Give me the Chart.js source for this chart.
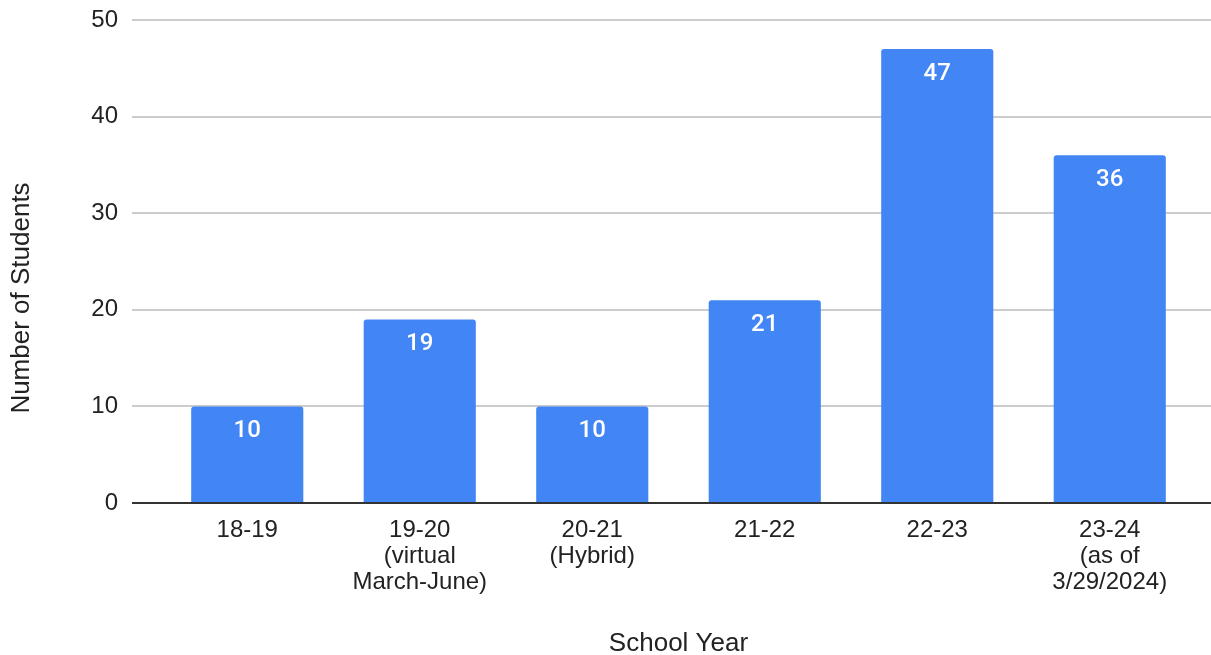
<!DOCTYPE html>
<html>
<head>
<meta charset="utf-8">
<script src="https://cdn.jsdelivr.net/npm/chart.js@4.4.1/dist/chart.umd.min.js"></script>
<style>
  html, body { margin: 0; padding: 0; background: #fff; }
  #wrap { width: 1211px; height: 655px; }
</style>
</head>
<body>
<div id="wrap"><canvas id="chart"></canvas></div>
<script>
  // values
  var schoolYears = [
    ['18-19'],
    ['19-20', '(virtual', 'March-June)'],
    ['20-21', '(Hybrid)'],
    ['21-22'],
    ['22-23'],
    ['23-24', '(as of', '3/29/2024)']
  ];
  var studentCounts = [10, 19, 10, 21, 47, 36];
  var yTicks = [0, 10, 20, 30, 40, 50];
  var xTitle = 'School Year';
  var yTitle = 'Number of Students';

  var GRID = '#cccccc';
  var LEFT_EDGE = 132;
  var FONT = '"Liberation Sans", Arial, sans-serif';

  // gridlines in the reference run past the plot on both sides,
  // and the zero line is dark
  var gridExtend = {
    id: 'gridExtend',
    beforeDatasetsDraw: function (chart) {
      var ctx = chart.ctx, y = chart.scales.y;
      ctx.save();
      ctx.lineWidth = 2;
      ctx.strokeStyle = GRID;
      yTicks.forEach(function (v) {
        if (v === 0) return;
        var py = Math.round(y.getPixelForValue(v));
        ctx.beginPath();
        ctx.moveTo(LEFT_EDGE, py);
        ctx.lineTo(chart.width, py);
        ctx.stroke();
      });
      ctx.restore();
    },
    afterDatasetsDraw: function (chart) {
      var ctx = chart.ctx, y = chart.scales.y;
      var py = Math.round(y.getPixelForValue(0));
      ctx.save();
      ctx.lineWidth = 2;
      ctx.strokeStyle = '#333333';
      ctx.beginPath();
      ctx.moveTo(LEFT_EDGE, py);
      ctx.lineTo(chart.width, py);
      ctx.stroke();
      ctx.restore();
    }
  };

  var barLabels = {
    id: 'barLabels',
    afterDatasetsDraw: function (chart) {
      var ctx = chart.ctx;
      var meta = chart.getDatasetMeta(0);
      ctx.save();
      ctx.fillStyle = '#ffffff';
      ctx.font = '500 24px Roboto, "Liberation Sans", Arial, sans-serif';
      ctx.textAlign = 'center';
      ctx.textBaseline = 'middle';
      meta.data.forEach(function (bar, i) {
        ctx.fillText(String(studentCounts[i]), bar.x, bar.y + 25);
      });
      ctx.restore();
    }
  };

  // the y title sits lower than the plot centre in the reference
  var yTitlePlugin = {
    id: 'yTitlePlugin',
    afterDraw: function (chart) {
      var ctx = chart.ctx;
      ctx.save();
      ctx.translate(22, 298);
      ctx.rotate(-Math.PI / 2);
      ctx.fillStyle = '#222';
      ctx.font = '26px ' + FONT;
      ctx.textAlign = 'center';
      ctx.textBaseline = 'middle';
      ctx.fillText(yTitle, 0, 0);
      ctx.restore();
    }
  };

  new Chart(document.getElementById('chart').getContext('2d'), {
    type: 'bar',
    data: {
      labels: schoolYears,
      datasets: [{
        data: studentCounts,
        backgroundColor: '#4285F4',
        borderRadius: 3,
        borderSkipped: 'bottom',
        barPercentage: 0.65,
        categoryPercentage: 1.0
      }]
    },
    options: {
      responsive: true,
      maintainAspectRatio: false,
      animation: false,
      events: [],
      layout: { padding: { top: 20, right: 15, left: 0, bottom: 0 } },
      plugins: {
        legend: { display: false },
        tooltip: { enabled: false }
      },
      scales: {
        x: {
          grid: { display: false, drawTicks: true, tickLength: 0 },
          border: { display: false },
          ticks: {
            color: '#222',
            font: { family: FONT, size: 24, lineHeight: 1.09 },
            padding: 14,
            maxRotation: 0,
            autoSkip: false
          },
          title: {
            display: true,
            text: xTitle,
            color: '#222',
            font: { family: FONT, size: 26 },
            padding: { top: 0, bottom: -4 }
          },
          afterFit: function (scale) { scale.height = 152; }
        },
        y: {
          min: 0,
          max: 50,
          afterBuildTicks: function (scale) {
            scale.ticks = yTicks.map(function (v) { return { value: v }; });
          },
          grid: { display: false, drawTicks: true, tickLength: 43 },
          border: { display: false },
          ticks: {
            color: '#222',
            font: { family: FONT, size: 24 },
            padding: 0
          },
          afterFit: function (scale) { scale.width = 161; }
        }
      }
    },
    plugins: [gridExtend, barLabels, yTitlePlugin]
  });
</script>
</body>
</html>
